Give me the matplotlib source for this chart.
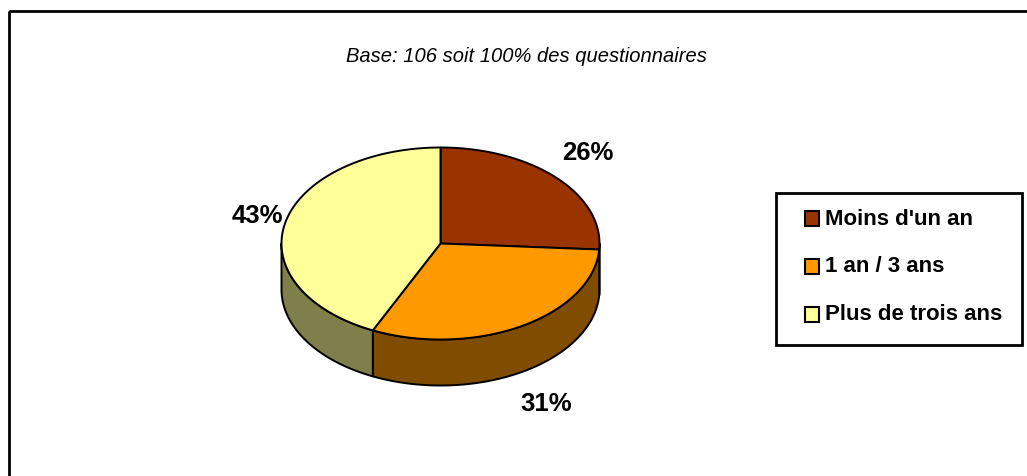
import numpy as np
import matplotlib
matplotlib.use("Agg")
import matplotlib.pyplot as plt
from matplotlib.patches import Polygon, Rectangle

# ---- data ----
categories = ["Moins d'un an", "1 an / 3 ans", "Plus de trois ans"]
values = [26, 31, 43]
pct_labels = ["26%", "31%", "43%"]
title = "Base: 106 soit 100% des questionnaires"

# ---- style ----
top_colors = ["#993300", "#FF9900", "#FFFF99"]
side_colors = ["#4C1900", "#7F4C00", "#7F7F4C"]
FONT = ["Liberation Sans", "DejaVu Sans"]

W, H = 1027, 476
fig = plt.figure(figsize=(W / 100, H / 100), dpi=100)
ax = fig.add_axes([0, 0, 1, 1])
ax.set_xlim(0, W)
ax.set_ylim(H, 0)
ax.axis("off")

# outer frame (extends past right/bottom edge)
ax.add_patch(Rectangle((8.5, 11), 1030, 480, fill=False, lw=2.0, ec="black", zorder=1))

# pie geometry
cx, cy, rx, ry, depth = 440.5, 243.5, 159, 96, 46


def pt(theta_deg, dy=0.0):
    t = np.radians(theta_deg)
    return cx + rx * np.cos(t), cy - ry * np.sin(t) + dy


total = float(sum(values))
angles = [90.0]
for v in values:
    angles.append(angles[-1] - 360.0 * v / total)

# sides (front half: theta in [-180, 0])
for i in range(len(values)):
    a0, a1 = angles[i], angles[i + 1]  # a0 > a1 (clockwise)
    lo, hi = max(a1, -180.0), min(a0, 0.0)
    if hi <= lo:
        continue
    ts = np.linspace(hi, lo, 80)
    topx, topy = zip(*[pt(t) for t in ts])
    botx, boty = zip(*[pt(t, depth) for t in ts[::-1]])
    poly = Polygon(list(zip(topx, topy)) + list(zip(botx, boty)), closed=True,
                   fc=side_colors[i], ec="black", lw=1.4, joinstyle="round", zorder=2)
    ax.add_patch(poly)

# top wedges
for i in range(len(values)):
    a0, a1 = angles[i], angles[i + 1]
    ts = np.linspace(a0, a1, 150)
    pts = [(cx, cy)] + [pt(t) for t in ts]
    ax.add_patch(Polygon(pts, closed=True, fc=top_colors[i], ec="black", lw=1.4,
                         joinstyle="round", zorder=3))

# percentage labels
label_pos = [(588, 153), (546, 404), (257, 216)]
for (x, y), s in zip(label_pos, pct_labels):
    ax.text(x, y, s, ha="center", va="center", fontsize=18.5, fontweight="bold",
            family=FONT, zorder=5)

# title
ax.text(526, 56, title, ha="center", va="center", fontsize=14.5, style="italic",
        family=FONT)

# legend
ax.add_patch(Rectangle((776, 193), 246, 152, fill=True, fc="white", lw=2.0, ec="black", zorder=4))
row_y = [218.5, 266, 314]
for c, lab, y in zip(top_colors, categories, row_y):
    ax.add_patch(Rectangle((805, y - 7.5), 14, 15, fc=c, ec="black", lw=1.5, zorder=5))
    ax.text(825, y + 1, lab, ha="left", va="center", fontsize=16, fontweight="bold",
            family=FONT, zorder=5)

fig.savefig("out.png", dpi=100)
